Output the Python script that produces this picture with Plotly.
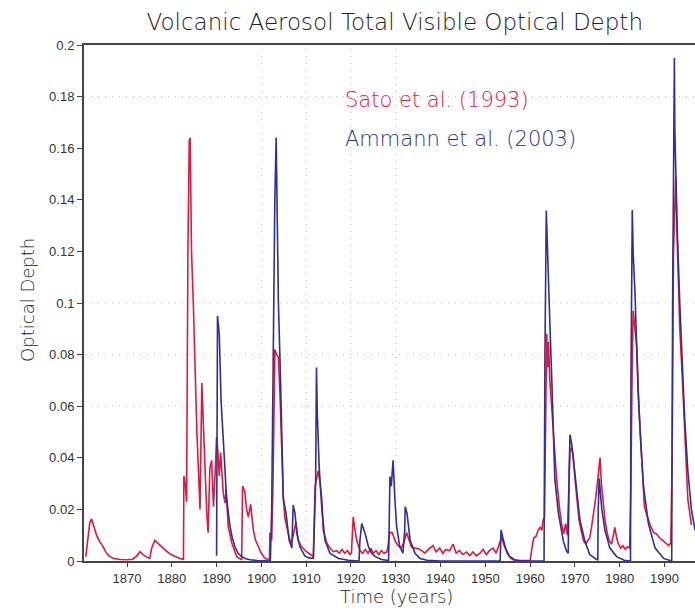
import plotly.graph_objects as go

# ---------------- data ----------------
sato_years = [1860.8, 1861.2, 1861.7, 1862.1, 1862.6, 1863.2, 1863.9, 1864.7, 1865.4, 1866.2,
              1867.0, 1868.5, 1870.0, 1871.3, 1872.2, 1872.9, 1873.6, 1874.4, 1875.1, 1875.5,
              1876.2, 1876.9, 1877.8, 1878.8, 1879.8, 1880.8, 1881.8, 1882.6, 1882.7, 1883.0,
              1883.3, 1883.6, 1883.9, 1884.1, 1884.4, 1884.8, 1885.2, 1885.6, 1886.1, 1886.3,
              1886.7, 1887.1, 1887.5, 1887.8, 1888.1, 1888.5, 1888.9, 1889.3, 1889.7, 1890.0,
              1890.3, 1890.6, 1890.9, 1891.2, 1891.5, 1891.9, 1892.1, 1892.6, 1893.4, 1894.5,
              1895.6, 1895.8, 1896.3, 1896.7, 1897.1, 1897.6, 1898.2, 1898.7, 1899.3, 1900.0,
              1900.8, 1901.8, 1901.9, 1902.3, 1902.6, 1903.0, 1903.4, 1903.8, 1904.2, 1904.5,
              1904.9, 1905.3, 1906.0, 1906.5, 1907.0, 1907.3, 1907.7, 1908.2, 1909.0, 1910.1,
              1911.0, 1911.6, 1912.0, 1912.4, 1912.7, 1913.1, 1913.5, 1913.8, 1914.6, 1915.3,
              1916.1, 1916.8, 1917.4, 1918.0, 1918.6, 1919.2, 1919.8, 1920.1, 1920.3, 1920.5,
              1920.9, 1921.3, 1922.0, 1922.6, 1923.2, 1923.8, 1924.4, 1925.0, 1925.6, 1926.2,
              1926.8, 1927.4, 1928.0, 1928.3, 1928.6, 1929.2, 1929.8, 1930.5, 1931.2, 1931.8,
              1932.4, 1933.0, 1933.5, 1934.2, 1935.0, 1935.8, 1936.5, 1937.3, 1938.3, 1939.0,
              1939.8, 1940.5, 1941.2, 1942.0, 1942.8, 1943.5, 1944.2, 1945.0, 1945.8, 1946.5,
              1947.2, 1948.0, 1948.8, 1949.5, 1950.2, 1950.9, 1951.7, 1952.4, 1953.0, 1953.6,
              1954.2, 1954.9, 1955.6, 1956.3, 1957.5, 1958.8, 1960.0, 1960.4, 1960.8, 1961.3,
              1961.8, 1962.2, 1962.6, 1962.9, 1963.2, 1963.5, 1963.7, 1963.9, 1964.1, 1964.4,
              1964.8, 1965.2, 1965.5, 1965.9, 1966.5, 1967.0, 1967.5, 1967.9, 1968.3, 1968.6,
              1968.9, 1969.2, 1969.6, 1970.0, 1970.4, 1970.9, 1971.4, 1971.9, 1972.4, 1972.9,
              1973.3, 1973.7, 1974.1, 1974.6, 1975.0, 1975.4, 1975.6, 1975.9, 1976.3, 1976.7,
              1977.1, 1977.6, 1978.2, 1978.6, 1978.9, 1979.3, 1979.7, 1980.2, 1980.7, 1981.2,
              1981.7, 1982.2, 1982.5, 1982.8, 1983.0, 1983.4, 1983.8, 1984.3, 1984.9, 1985.5,
              1986.0, 1986.4, 1987.0, 1987.6, 1988.2, 1988.9, 1989.6, 1990.2, 1990.9, 1991.4,
              1991.7, 1992.0, 1992.5, 1992.9, 1993.4, 1994.0, 1994.5, 1995.2, 1996.0]
sato_tau = [0.0017, 0.008, 0.015, 0.0163, 0.013, 0.010, 0.0075, 0.0055, 0.003, 0.0017,
            0.001, 0.0006, 0.0005, 0.0007, 0.002, 0.0036, 0.0025, 0.0015, 0.001, 0.005,
            0.008, 0.0068, 0.0052, 0.0038, 0.0025, 0.0016, 0.001, 0.0007, 0.033, 0.030,
            0.023, 0.12, 0.163, 0.164, 0.12, 0.10, 0.073, 0.05, 0.029, 0.02,
            0.069, 0.05, 0.034, 0.0186, 0.011, 0.036, 0.039, 0.021, 0.035, 0.048,
            0.042, 0.033, 0.042, 0.034, 0.026, 0.0224, 0.028, 0.0133, 0.007, 0.0017,
            0.0005, 0.029, 0.027, 0.02, 0.017, 0.022, 0.012, 0.008, 0.0055, 0.003,
            0.001, 0.0004, 0.011, 0.008, 0.03, 0.082, 0.080, 0.079, 0.062, 0.044,
            0.024, 0.016, 0.011, 0.007, 0.009, 0.012, 0.015, 0.008, 0.0055, 0.0036,
            0.0025, 0.0017, 0.029, 0.033, 0.035, 0.03, 0.024, 0.012, 0.007, 0.005,
            0.0036, 0.004, 0.003, 0.0045, 0.003, 0.004, 0.0025, 0.003, 0.012, 0.017,
            0.012, 0.008, 0.004, 0.003, 0.0045, 0.003, 0.005, 0.003, 0.004, 0.0025,
            0.004, 0.003, 0.0035, 0.006, 0.011, 0.011, 0.008, 0.006, 0.005, 0.007,
            0.011, 0.008, 0.0055, 0.005, 0.0048, 0.004, 0.003, 0.0045, 0.006, 0.0035,
            0.005, 0.003, 0.0045, 0.004, 0.0065, 0.003, 0.004, 0.0025, 0.0035, 0.002,
            0.0035, 0.002, 0.003, 0.0045, 0.0025, 0.004, 0.005, 0.003, 0.006, 0.009,
            0.006, 0.003, 0.0012, 0.0004, 0.0002, 0.0002, 0.0003, 0.005, 0.009, 0.0095,
            0.012, 0.013, 0.012, 0.016, 0.017, 0.06, 0.088, 0.075, 0.085, 0.07,
            0.059, 0.05, 0.0427, 0.032, 0.0213, 0.0145, 0.0105, 0.0145, 0.01, 0.03,
            0.0427, 0.044, 0.041, 0.032, 0.024, 0.016, 0.0118, 0.008, 0.0066, 0.008,
            0.009, 0.013, 0.0172, 0.024, 0.03, 0.037, 0.040, 0.03, 0.0213, 0.016,
            0.0118, 0.008, 0.0066, 0.01, 0.013, 0.009, 0.0066, 0.005, 0.006, 0.0045,
            0.0055, 0.005, 0.03, 0.08, 0.097, 0.09, 0.083, 0.059, 0.0415, 0.0213,
            0.018, 0.016, 0.013, 0.011, 0.0105, 0.009, 0.008, 0.007, 0.006, 0.007,
            0.04, 0.12, 0.149, 0.12, 0.09, 0.07, 0.05, 0.024, 0.014]

ammann_years = [1890.0, 1890.1, 1890.2, 1890.6, 1891.0, 1891.4, 1891.9, 1892.2, 1892.6, 1893.0,
                1893.5, 1894.1, 1894.8, 1895.6, 1896.5, 1897.5, 1899.0, 1900.5, 1902.0, 1902.3,
                1902.7, 1903.0, 1903.3, 1903.5, 1903.8, 1904.2, 1904.5, 1904.9, 1905.5, 1906.2,
                1906.8, 1907.1, 1907.5, 1907.9, 1908.6, 1909.7, 1910.6, 1911.6, 1912.1, 1912.3,
                1912.5, 1912.9, 1913.5, 1914.2, 1915.3, 1917.2, 1919.5, 1921.8, 1922.0, 1922.4,
                1922.7, 1923.1, 1923.9, 1924.6, 1925.4, 1926.8, 1928.4, 1928.5, 1928.7, 1929.0,
                1929.4, 1929.8, 1930.2, 1930.9, 1931.6, 1932.0, 1932.1, 1932.5, 1933.2, 1934.3,
                1935.4, 1937.0, 1940.0, 1953.3, 1953.5, 1953.9, 1954.5, 1955.3, 1956.5, 1958.0,
                1963.1, 1963.3, 1963.6, 1963.8, 1964.0, 1964.4, 1964.8, 1965.2, 1965.5, 1966.3,
                1967.4, 1968.1, 1968.5, 1968.7, 1968.9, 1969.3, 1969.6, 1970.4, 1971.1, 1972.2,
                1973.3, 1974.8, 1975.1, 1975.2, 1975.4, 1975.7, 1976.0, 1976.7, 1977.8, 1979.3,
                1981.0, 1982.4, 1982.5, 1982.8, 1983.0, 1983.4, 1983.8, 1984.1, 1984.7, 1985.3,
                1986.4, 1987.9, 1989.8, 1991.6, 1991.8, 1992.2, 1992.3, 1992.8, 1993.4, 1994.0,
                1994.5, 1995.2, 1996.0, 1996.8]
ammann_tau = [0.002, 0.06, 0.095, 0.088, 0.062, 0.05, 0.034, 0.025, 0.019, 0.0133,
              0.009, 0.0055, 0.003, 0.0017, 0.0009, 0.0005, 0.0002, 0.0001, 0.0, 0.02,
              0.09, 0.14, 0.164, 0.13, 0.10, 0.075, 0.05, 0.024, 0.0186, 0.008,
              0.005, 0.0217, 0.0186, 0.011, 0.0055, 0.002, 0.0012, 0.001, 0.03, 0.075,
              0.056, 0.0366, 0.02, 0.008, 0.003, 0.001, 0.0003, 0.0, 0.008, 0.0145,
              0.013, 0.011, 0.0055, 0.003, 0.0017, 0.0006, 0.0002, 0.02, 0.0327, 0.029,
              0.039, 0.024, 0.0133, 0.0055, 0.003, 0.012, 0.021, 0.0186, 0.008, 0.003,
              0.001, 0.0003, 0.0, 0.0, 0.012, 0.009, 0.005, 0.002, 0.0005, 0.0,
              0.0, 0.08, 0.1358, 0.125, 0.112, 0.092, 0.072, 0.052, 0.032, 0.0186,
              0.0078, 0.0039, 0.003, 0.035, 0.049, 0.045, 0.040, 0.0266, 0.016, 0.0078,
              0.0025, 0.0006, 0.0005, 0.02, 0.032, 0.026, 0.02, 0.0118, 0.005, 0.0017,
              0.0003, 0.0, 0.07, 0.136, 0.119, 0.104, 0.0855, 0.0655, 0.0455, 0.029,
              0.0145, 0.005, 0.001, 0.0, 0.1, 0.195, 0.167, 0.13, 0.1, 0.075,
              0.055, 0.035, 0.02, 0.012]

x_ticks = [1870, 1880, 1890, 1900, 1910, 1920, 1930, 1940, 1950, 1960, 1970, 1980, 1990]
y_ticks = [0, 0.02, 0.04, 0.06, 0.08, 0.1, 0.12, 0.14, 0.16, 0.18, 0.2]
y_tick_text = ["0", "0.02", "0.04", "0.06", "0.08", "0.1", "0.12", "0.14", "0.16", "0.18", "0.2"]
h_grid = [0.06, 0.08, 0.1, 0.18]
v_grid = [1900, 1910, 1920, 1930]

series_names = ["Sato et al. (1993)", "Ammann et al. (2003)"]

# ---------------- styling ----------------
RED = "#e3173e"
BLUE = "#2e3190"
FONT = "Liberation Sans"
TFONT = "DejaVu Sans"
TXT = "#222222"
XR = [1860.4, 1996.8]

fig = go.Figure()
fig.add_trace(go.Scatter(x=sato_years, y=sato_tau, mode="lines", name=series_names[0],
                         line=dict(color=RED, width=1.6), showlegend=False))
fig.add_trace(go.Scatter(x=ammann_years, y=ammann_tau, mode="lines", name=series_names[1],
                         line=dict(color=BLUE, width=1.6), showlegend=False))

GRID = dict(color="#c4c4c4", width=1.2, dash="1px,6px")
shapes = []
for v in h_grid:
    shapes.append(dict(type="line", xref="paper", yref="y", x0=0, x1=1, y0=v, y1=v,
                       line=GRID, layer="below"))
for v in v_grid:
    shapes.append(dict(type="line", xref="x", yref="paper", x0=v, x1=v, y0=0, y1=1,
                       line=GRID, layer="below"))

annotations = [
    dict(text=series_names[0], x=1918.2, y=0.1787, xref="x", yref="y", xanchor="left",
         yanchor="middle", showarrow=False,
         font=dict(family=TFONT, size=21, color=RED, weight=200)),
    dict(text=series_names[1], x=1918.2, y=0.1636, xref="x", yref="y", xanchor="left",
         yanchor="middle", showarrow=False,
         font=dict(family=TFONT, size=21, color=BLUE, weight=200)),
    dict(text="Time (years)", x=0.512, y=-0.069, xref="paper", yref="paper",
         xanchor="center", yanchor="middle", showarrow=False,
         font=dict(family=TFONT, size=18, color=TXT, weight=200)),
    dict(text="Optical Depth", x=-0.0917, y=0.506, xref="paper", yref="paper",
         xanchor="center", yanchor="middle", showarrow=False, textangle=-90,
         font=dict(family=TFONT, size=18, color=TXT, weight=200)),
]

fig.update_layout(
    width=695, height=608,
    margin=dict(l=84, r=0, t=45, b=47),
    paper_bgcolor="white", plot_bgcolor="white",
    title=dict(text="Volcanic Aerosol Total Visible Optical Depth", x=0.568, y=1 - 22 / 608,
               xref="container", yref="container", xanchor="center", yanchor="middle",
               font=dict(family=TFONT, size=23, color=TXT, weight=200)),
    shapes=shapes,
    annotations=annotations,
    xaxis=dict(range=XR, tickvals=x_ticks, showgrid=False, zeroline=False,
               showline=True, linecolor="#444444", linewidth=2, mirror=True,
               ticks="outside", ticklen=4, tickcolor="#444444",
               tickfont=dict(family=FONT, size=13, color="#333333")),
    yaxis=dict(range=[0, 0.2], tickvals=y_ticks, ticktext=y_tick_text, showgrid=False,
               zeroline=False, showline=True, linecolor="#444444", linewidth=2,
               ticks="outside", ticklen=5, tickcolor="#444444",
               tickfont=dict(family=FONT, size=13, color="#333333")),
)

fig.write_html("out.html")
